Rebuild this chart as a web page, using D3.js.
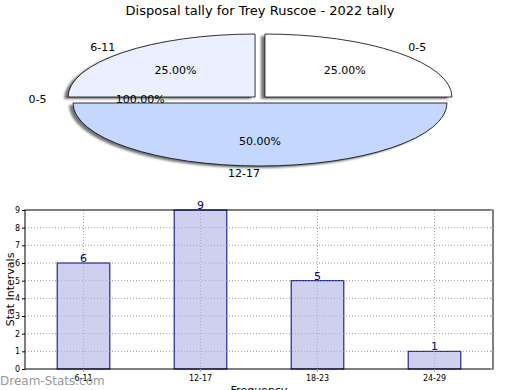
<!DOCTYPE html>
<html>
<head>
<meta charset="utf-8">
<script src="https://cdn.jsdelivr.net/npm/d3@7"></script>
<style>
  body { margin: 0; background: #fff; }
  svg { font-family: "DejaVu Sans", sans-serif; }
</style>
</head>
<body>
<div id="chart"></div>
<script>
const title = 'Disposal tally for Trey Ruscoe - 2022 tally';

// pie slices (clockwise from 12 o'clock)
const pieLabels = ['0-5', '12-17', '6-11'];
const pieValues = [25, 50, 25];
const pieColors = ['#ffffff', '#c4d8ff', '#eaf0ff'];
// odd extra label in the source pie
const extraLabel = '0-5';
const extraPct = 100;

// bar chart
const barCats = ['6-11', '12-17', '18-23', '24-29'];
const barValues = [6, 9, 5, 1];
const yTicks = [0, 1, 2, 3, 4, 5, 6, 7, 8, 9];

const W = 520, H = 390;
const svg = d3.select('#chart').append('svg')
  .attr('width', W).attr('height', H);

svg.append('text')
  .attr('x', 260).attr('y', 15)
  .attr('text-anchor', 'middle')
  .attr('font-size', 13)
  .text(title);

// ---- pie ----
const cx = 260, cy = 99.5, rx = 187, ry = 63;
const ex = 7, ey = 3.5;
const pie = d3.pie().sort(null).value(d => d)(pieValues);
const pt = (a, k) => [rx * k * Math.sin(a), -ry * k * Math.cos(a)];
const slicePath = d => {
  const p0 = pt(d.startAngle, 1), p1 = pt(d.endAngle, 1);
  const large = d.endAngle - d.startAngle > Math.PI ? 1 : 0;
  return `M0,0L${p0}A${rx},${ry} 0 ${large} 1 ${p1}Z`;
};
const offset = d => {
  const m = (d.startAngle + d.endAngle) / 2;
  return [ex * Math.sin(m), -ey * Math.cos(m)];
};

const defs = svg.append('defs');
defs.append('filter').attr('id', 'blur')
  .append('feGaussianBlur').attr('stdDeviation', 0.8);

const gp = svg.append('g').attr('transform', `translate(${cx},${cy})`);

gp.selectAll('path.shadow')
  .data(pie)
  .join('path')
  .attr('class', 'shadow')
  .attr('d', slicePath)
  .attr('transform', d => { const o = offset(d); return `translate(${o[0] - 4},${o[1] + 2})`; })
  .attr('fill', '#777')
  .attr('filter', 'url(#blur)');

gp.selectAll('path.slice')
  .data(pie)
  .join('path')
  .attr('class', 'slice')
  .attr('d', slicePath)
  .attr('transform', d => `translate(${offset(d)})`)
  .attr('fill', (d, i) => pieColors[i])
  .attr('stroke', '#000')
  .attr('stroke-width', 0.8);

const fmtPct = v => v.toFixed(2) + '%';
const total = d3.sum(pieValues);
const labelData = pie.map((d, i) => ({
  angle: (d.startAngle + d.endAngle) / 2, name: pieLabels[i], pct: fmtPct(100 * pieValues[i] / total)
}));
labelData.push({angle: Math.PI * 1.5, name: extraLabel, pct: fmtPct(extraPct)});

gp.selectAll('text.outer')
  .data(labelData)
  .join('text')
  .attr('class', 'outer')
  .attr('x', d => pt(d.angle, 1.19)[0])
  .attr('y', d => pt(d.angle, 1.17)[1])
  .attr('text-anchor', d => Math.abs(Math.sin(d.angle)) < 0.01 ? 'end' : 'middle')
  .attr('dy', '0.35em')
  .attr('font-size', 11)
  .text(d => d.name);

gp.selectAll('text.inner')
  .data(labelData)
  .join('text')
  .attr('class', 'inner')
  .attr('x', d => pt(d.angle, 0.64)[0])
  .attr('y', d => pt(d.angle, 0.66)[1])
  .attr('text-anchor', 'middle')
  .attr('dy', '0.35em')
  .attr('font-size', 11)
  .text(d => d.pct);

// ---- bars ----
const pL = 25, pR = 493, pT = 210, pB = 369;
const x = d3.scaleBand().domain(barCats).range([pL, pR]).padding(0);
const y = d3.scaleLinear().domain([0, 9]).range([pB, pT]);
const bw = x.bandwidth() * 0.45;
const xc = d => x(d) + x.bandwidth() / 2;

const grid = svg.append('g')
  .attr('stroke', '#bbb')
  .attr('stroke-dasharray', '1,2');
grid.selectAll('line.h')
  .data(yTicks.slice(1, -1))
  .join('line')
  .attr('class', 'h')
  .attr('x1', pL).attr('x2', pR)
  .attr('y1', d => y(d)).attr('y2', d => y(d));
grid.selectAll('line.v')
  .data(barCats)
  .join('line')
  .attr('class', 'v')
  .attr('x1', xc).attr('x2', xc)
  .attr('y1', pT).attr('y2', pB);

svg.append('g').selectAll('rect')
  .data(barValues)
  .join('rect')
  .attr('x', (d, i) => xc(barCats[i]) - bw / 2)
  .attr('y', d => y(d))
  .attr('width', bw)
  .attr('height', d => pB - y(d))
  .attr('fill', '#ccccee')
  .attr('fill-opacity', 0.95)
  .attr('stroke', '#000080')
  .attr('stroke-width', 1);

// grid over bars (dotted lines visible through bars)
const grid2 = svg.append('g')
  .attr('stroke', '#999')
  .attr('stroke-opacity', 0.6)
  .attr('stroke-dasharray', '1,2');
grid2.selectAll('line.h')
  .data(yTicks.slice(1, -1))
  .join('line')
  .attr('x1', pL).attr('x2', pR)
  .attr('y1', d => y(d)).attr('y2', d => y(d));
grid2.selectAll('line.v')
  .data(barCats)
  .join('line')
  .attr('x1', xc).attr('x2', xc)
  .attr('y1', pT).attr('y2', pB);

svg.append('g').selectAll('text')
  .data(barValues)
  .join('text')
  .attr('x', (d, i) => xc(barCats[i]))
  .attr('y', d => y(d) - 1)
  .attr('text-anchor', 'middle')
  .attr('font-size', 11)
  .attr('fill', '#000080')
  .text(d => d);

// frame
svg.append('rect')
  .attr('x', pL).attr('y', pT)
  .attr('width', pR - pL).attr('height', pB - pT)
  .attr('fill', 'none').attr('stroke', '#000').attr('stroke-width', 1);

// right-side small ticks
svg.append('g').selectAll('line')
  .data(yTicks)
  .join('line')
  .attr('x1', pR - 3).attr('x2', pR)
  .attr('y1', d => y(d)).attr('y2', d => y(d))
  .attr('stroke', '#aaa');

const yAxis = d3.axisLeft(y).tickValues(yTicks).tickSize(3).tickPadding(2);
svg.append('g')
  .attr('transform', `translate(${pL},0)`)
  .call(yAxis)
  .call(g => g.select('.domain').remove())
  .call(g => g.selectAll('text').attr('font-size', 8).attr('font-family', '"DejaVu Sans", sans-serif'));

const xAxis = d3.axisBottom(x).tickSize(3).tickPadding(3);
svg.append('g')
  .attr('transform', `translate(0,${pB})`)
  .call(xAxis)
  .call(g => g.select('.domain').remove())
  .call(g => g.selectAll('line').attr('stroke', '#aaa'))
  .call(g => g.selectAll('text').attr('font-size', 8).attr('font-family', '"DejaVu Sans", sans-serif'));

svg.append('text')
  .attr('transform', `translate(10,${(pT + pB) / 2}) rotate(-90)`)
  .attr('text-anchor', 'middle')
  .attr('dy', '0.35em')
  .attr('font-size', 11)
  .text('Stat Intervals');

svg.append('text')
  .attr('x', 259).attr('y', 394)
  .attr('text-anchor', 'middle')
  .attr('font-size', 11)
  .text('Frequency');

svg.append('text')
  .attr('x', 0).attr('y', 385)
  .attr('font-size', 12)
  .attr('fill', '#999')
  .text('Dream-Stats.com');
</script>
</body>
</html>
